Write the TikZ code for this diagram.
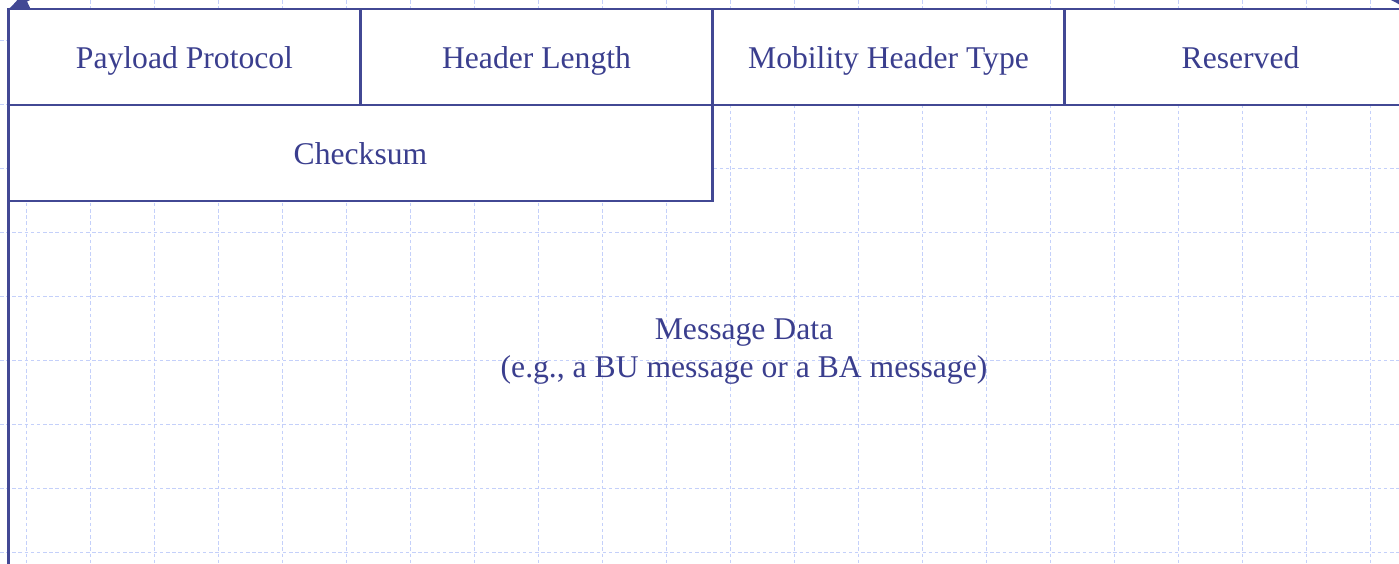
\documentclass[tikz,border=0pt]{standalone}
\usepackage{fontspec}
\setmainfont{Liberation Serif}
\usepackage{tikz}
\usetikzlibrary{arrows.meta}
\usetikzlibrary{calc,positioning}

\definecolor{framec}{RGB}{66,72,148}
\definecolor{labelc}{RGB}{58,62,142}
\definecolor{gridc}{RGB}{196,208,250}

\begin{document}
\begin{tikzpicture}[
        field/.style={rectangle, draw=framec, fill=white, line width=1.2pt, outer sep=0pt,
        text=labelc, font=\fontsize{18pt}{21.6pt}\selectfont, align=center,
        text height=16pt, text depth=3pt,
        minimum width=7.04cm, minimum height=1.92cm},
        gridline/.style={draw=gridc, line width=0.5pt, dash pattern=on 2pt off 1.5pt},
        frameline/.style={draw=framec, line width=1.2pt}]
        \useasboundingbox (0,0) rectangle (27.98,-11.26);

        % background grid
        \foreach \gx in {0,...,21} {
            \draw[gridline] (0.52+1.28*\gx,0) -- (0.52+1.28*\gx,-11.26);
        }
        \foreach \gy in {0,...,8} {
            \draw[gridline] (0,-0.8-1.28*\gy) -- (27.98,-0.8-1.28*\gy);
        }

        % header fields
        \node (payload) [field, anchor=north west] at (0.17,-0.18) {Payload Protocol};
        \node (hdrlen) [field, right=0pt of payload] {Header Length};
        \node (mhtype) [field, right=0pt of hdrlen] {Mobility Header Type};
        \node (reserved) [field, right=0pt of mhtype] {Reserved};
        \node (checksum) [field, minimum width=14.08cm, below=0pt of payload.south west, anchor=north west] {Checksum};

        % message data
        \node (msgdata) [text=labelc, font=\fontsize{18pt}{21.6pt}\selectfont, align=center]
            at (14.88,-7.04) {Message Data\\(e.g., a BU message or a BA message)};
        \coordinate (msgbottom) at (0.17,-11.6);
        \draw[frameline] (checksum.south west) -- (msgbottom);

        % cut-off tips at the top edge
        \coordinate (tipfrom) at (1.26,0.33);
        \draw[frameline, -{Latex[length=0.4cm, width=0.36cm]}] (tipfrom) -- (payload.north west);
        \coordinate (arcfrom) at (27.6,0.12);
        \coordinate (arcto) at (28.2,-0.2);
        \draw[frameline, line width=2pt] (arcfrom) to[bend left=10] (arcto);
    \end{tikzpicture}
\end{document}
